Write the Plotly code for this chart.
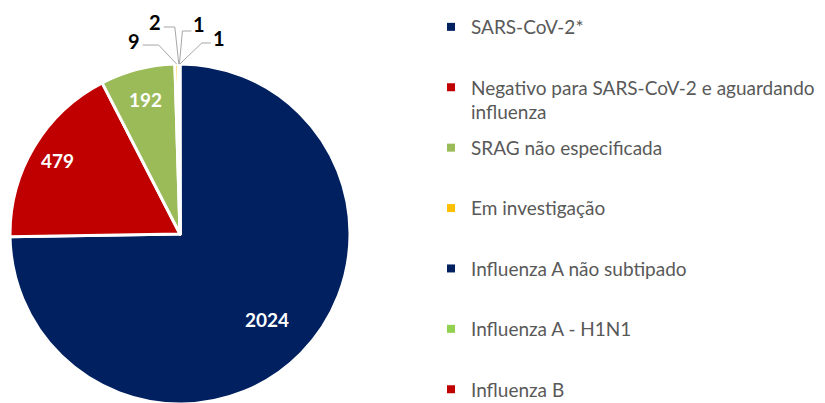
import math
import plotly.graph_objects as go

categories = [
    "SARS-CoV-2*",
    "Negativo para SARS-CoV-2 e aguardando<br>influenza",
    "SRAG não especificada",
    "Em investigação",
    "Influenza A não subtipado",
    "Influenza A - H1N1",
    "Influenza B",
]
values = [2024, 479, 192, 9, 2, 1, 1]
colors = ["#002060", "#C00000", "#9BBB59", "#FFC000", "#002060", "#92D050", "#C00000"]

# label layout (styles/positions only)
inside_labels = [True, True, True, False, False, False, False]
inside_radius = [0.72, 0.84, 0.82, None, None, None, None]
# outside labels: text offset, elbow offset, line end offset (px, from slice edge)
outside_layout = [
    None, None, None,
    ((-43, -23), (-18, -19), (-34, -19)),
    ((-24, -42), (-4, -37), (-15, -37)),
    ((20, -40), (3, -33), (12, -33)),
    ((39, -26), (22, -21), (31, -21)),
]

FONT = "Lato, 'Open Sans', sans-serif"
W, H = 825, 403
dom_x = [2 / W, 342 / W]
dom_y = [7 / H, 347 / H]

fig = go.Figure()
fig.add_trace(go.Pie(
    labels=categories,
    values=values,
    sort=False,
    direction="clockwise",
    rotation=0,
    marker=dict(colors=colors, line=dict(color="white", width=3)),
    textinfo="none",
    showlegend=False,
    domain=dict(x=dom_x, y=dom_y),
    hoverinfo="label+value",
))

total = sum(values)
cx = (dom_x[0] + dom_x[1]) / 2
cy = (dom_y[0] + dom_y[1]) / 2
r_px = min((dom_x[1] - dom_x[0]) * W, (dom_y[1] - dom_y[0]) * H) / 2


def to_paper(px_x, px_y, dx=0, dy=0):
    # px offsets measured downward-positive on screen
    return px_x + dx / W, px_y - dy / H


cum = 0
for v, ins, rr, lay in zip(values, inside_labels, inside_radius, outside_layout):
    mid = (cum + v / 2) / total * 2 * math.pi
    cum += v
    if ins:
        x = cx + rr * r_px * math.sin(mid) / W
        y = cy + rr * r_px * math.cos(mid) / H
        fig.add_annotation(
            x=x, y=y, xref="paper", yref="paper", showarrow=False,
            xanchor="center", yanchor="middle",
            text=f"<b>{v}</b>",
            font=dict(family=FONT, size=19, color="white"),
        )
        continue
    tx = cx + r_px * math.sin(mid) / W
    ty = cy + r_px * math.cos(mid) / H
    (ldx, ldy), (edx, edy), (hdx, hdy) = lay
    ex, ey = to_paper(tx, ty, edx, edy)
    hx, hy = to_paper(tx, ty, hdx, hdy)
    fig.add_shape(
        type="path", xref="paper", yref="paper",
        path=f"M {tx} {ty} L {ex} {ey} L {hx} {hy}",
        line=dict(color="#A6A6A6", width=1),
    )
    fig.add_annotation(
        x=tx, y=ty, xref="paper", yref="paper", showarrow=False,
        xanchor="center", yanchor="middle",
        xshift=ldx, yshift=-ldy,
        text=f"<b>{v}</b>",
        font=dict(family=FONT, size=20, color="black"),
    )

for i, (cat, col) in enumerate(zip(categories, colors)):
    last = i == len(categories) - 1
    name = cat if ("<br>" in cat or last) else cat + "<br> "
    fig.add_trace(go.Scatter(
        x=[None], y=[None], mode="markers",
        marker=dict(symbol="square", size=8, color=col),
        name=name, legendgroup=f"g{i}", showlegend=True,
    ))

fig.update_layout(
    width=W, height=H,
    margin=dict(l=0, r=0, t=0, b=0),
    paper_bgcolor="white", plot_bgcolor="white",
    xaxis=dict(visible=False), yaxis=dict(visible=False),
    legend=dict(
        x=0.5127, y=1.0, xanchor="left", yanchor="top",
        font=dict(family=FONT, size=19, color="#595959"),
        valign="top", tracegroupgap=8,
        bgcolor="rgba(0,0,0,0)", borderwidth=0,
    ),
)

fig.write_html("out.html")
